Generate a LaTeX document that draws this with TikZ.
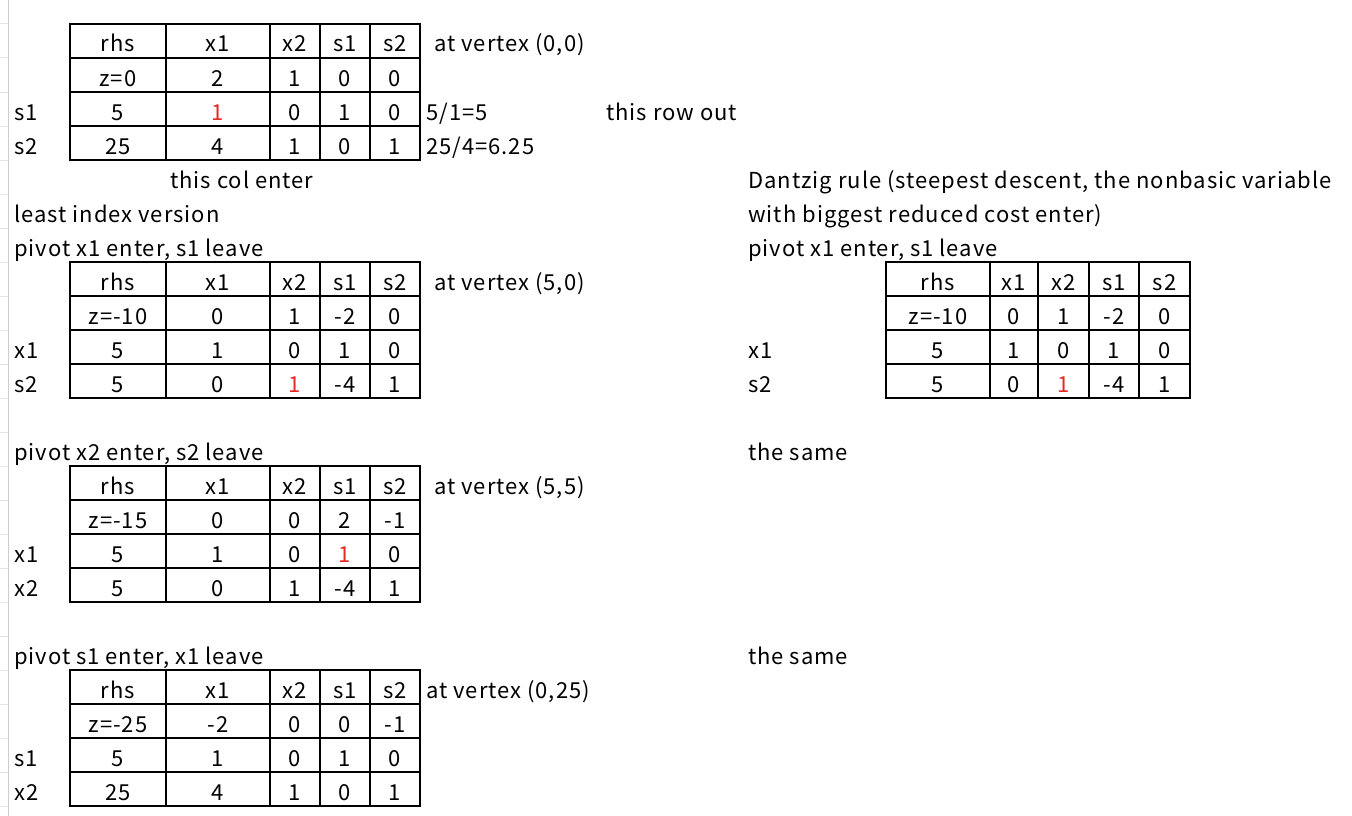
\documentclass[tikz,border=0pt]{standalone}
\usepackage{fontspec}
\setmainfont{Noto Sans CJK SC}[LetterSpace=4.5]
\definecolor{pivred}{RGB}{232,40,36}
\definecolor{gridgray}{RGB}{205,205,205}
\definecolor{tickgray}{RGB}{228,228,228}
\tikzset{
  cellbox/.style={draw=black, line width=1.6pt, inner sep=0pt, minimum height=34pt,
    text height=24pt, text depth=2pt, font=\fontsize{22}{26}\selectfont},
  lbl/.style={anchor=base west, inner sep=0pt, font=\fontsize{22}{26}\selectfont},
}
\newcommand\cellat[5]{\node[cellbox, minimum width={(#3-#2)*1pt}] (#1) at ({(#2+#3)/2},{#4+17}) {#5};}
% left tables
\newcommand\lrow[7]{%
  \cellat{#1-1}{70}{166}{#2}{#3}
  \cellat{#1-2}{166}{270}{#2}{#4}
  \cellat{#1-3}{270}{320}{#2}{#5}
  \cellat{#1-4}{320}{370}{#2}{#6}
  \cellat{#1-5}{370}{420}{#2}{#7}}
% right table
\newcommand\rrow[7]{%
  \cellat{#1-1}{886}{990}{#2}{#3}
  \cellat{#1-2}{990}{1038}{#2}{#4}
  \cellat{#1-3}{1038}{1089}{#2}{#5}
  \cellat{#1-4}{1089}{1139}{#2}{#6}
  \cellat{#1-5}{1139}{1190}{#2}{#7}}
\newcommand\pv[1]{\textcolor{pivred}{#1}}
\begin{document}
\begin{tikzpicture}[x=1pt,y=-1pt]
\useasboundingbox[fill=white] (0,0) rectangle (1352,816);
% spreadsheet row-header fragment
\foreach \k in {0,...,23} \draw[tickgray, line width=1pt] (0,{24+34*\k}) -- (8,{24+34*\k});
\draw[gridgray, line width=1.6pt] (8.5,0) -- (8.5,816);

% ---- table 1 ----
\lrow{a0}{24}{rhs}{x1}{x2}{s1}{s2}
\lrow{a1}{58}{z=0}{2}{1}{0}{0}
\lrow{a2}{92}{5}{\pv{1}}{0}{1}{0}
\lrow{a3}{126}{25}{4}{1}{0}{1}
\node[lbl] (la2) at (14,120) {s1};
\node[lbl] (la3) at (14,154) {s2};
\node[lbl] (va) at (434,52) {at vertex (0,0)};
\node[lbl] (ra1) at (426,120) {5/1=5};
\node[lbl] (rout) at (606,120) {this row out};
\node[lbl] (ra2) at (426,154) {25/4=6.25};
\node[lbl] (cin) at (170,188) {this col enter};
\node[lbl] (lidx) at (14,222) {least index version};
\node[lbl] (p1) at (14,256) {pivot x1 enter, s1 leave};
\node[lbl] (dz1) at (748,188) {Dantzig rule (steepest descent, the nonbasic variable};
\node[lbl] (dz2) at (748,222) {with biggest reduced cost enter)};
\node[lbl] (dp1) at (748,256) {pivot x1 enter, s1 leave};

% ---- table 2 ----
\lrow{b0}{262}{rhs}{x1}{x2}{s1}{s2}
\lrow{b1}{296}{z=-10}{0}{1}{-2}{0}
\lrow{b2}{330}{5}{1}{0}{1}{0}
\lrow{b3}{364}{5}{0}{\pv{1}}{-4}{1}
\node[lbl] (lb2) at (14,358) {x1};
\node[lbl] (lb3) at (14,392) {s2};
\node[lbl] (vb) at (434,290) {at vertex (5,0)};

% ---- right table ----
\rrow{c0}{262}{rhs}{x1}{x2}{s1}{s2}
\rrow{c1}{296}{z=-10}{0}{1}{-2}{0}
\rrow{c2}{330}{5}{1}{0}{1}{0}
\rrow{c3}{364}{5}{0}{\pv{1}}{-4}{1}
\node[lbl] (lc2) at (748,358) {x1};
\node[lbl] (lc3) at (748,392) {s2};

% ---- table 3 ----
\node[lbl] (p2) at (14,460) {pivot x2 enter, s2 leave};
\node[lbl] (same1) at (748,460) {the same};
\lrow{d0}{466}{rhs}{x1}{x2}{s1}{s2}
\lrow{d1}{500}{z=-15}{0}{0}{2}{-1}
\lrow{d2}{534}{5}{1}{0}{\pv{1}}{0}
\lrow{d3}{568}{5}{0}{1}{-4}{1}
\node[lbl] (ld2) at (14,562) {x1};
\node[lbl] (ld3) at (14,596) {x2};
\node[lbl] (vd) at (434,494) {at vertex (5,5)};

% ---- table 4 ----
\node[lbl] (p3) at (14,664) {pivot s1 enter, x1 leave};
\node[lbl] (same2) at (748,664) {the same};
\lrow{e0}{670}{rhs}{x1}{x2}{s1}{s2}
\lrow{e1}{704}{z=-25}{-2}{0}{0}{-1}
\lrow{e2}{738}{5}{1}{0}{1}{0}
\lrow{e3}{772}{25}{4}{1}{0}{1}
\node[lbl] (le2) at (14,766) {s1};
\node[lbl] (le3) at (14,800) {x2};
\node[lbl] (ve) at (426,698) {at vertex (0,25)};
\end{tikzpicture}
\end{document}
